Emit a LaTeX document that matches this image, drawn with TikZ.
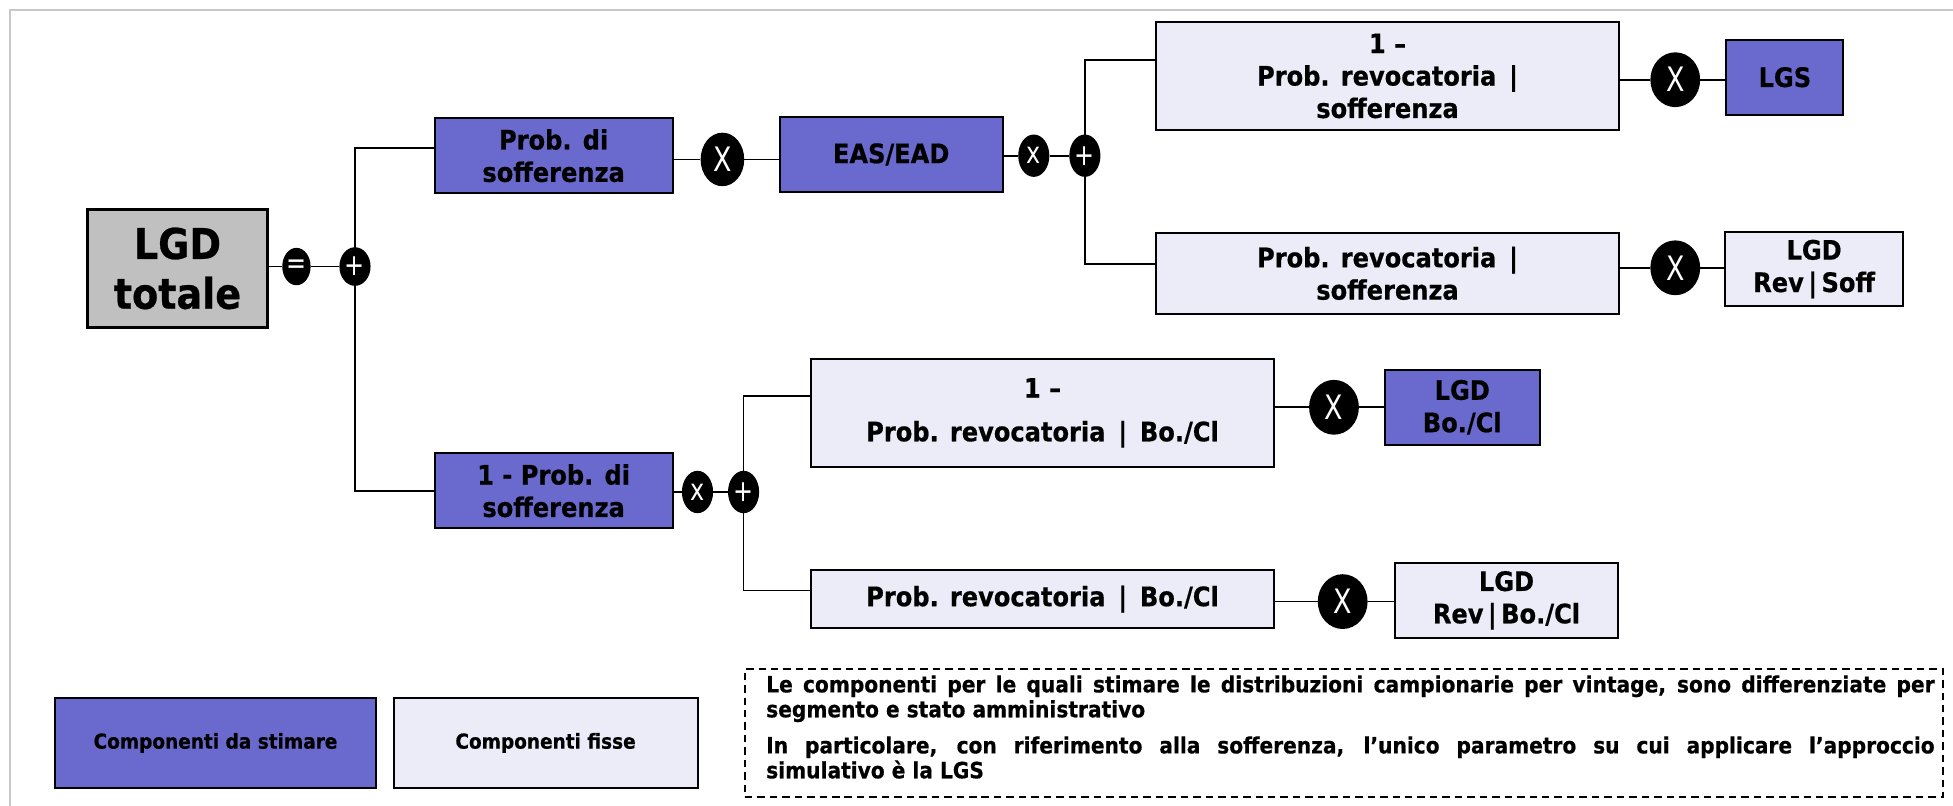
\documentclass[tikz,border=0pt]{standalone}
\usepackage{fontspec}
\setmainfont{DejaVu Sans}[FakeStretch=0.9, BoldFeatures={FakeBold=0.6}]
\newfontfamily\opfont{DejaVu Sans}[FakeStretch=0.8]
\usetikzlibrary{shapes.geometric}
\definecolor{purp}{RGB}{106,106,206}
\definecolor{lightc}{RGB}{236,236,248}
\definecolor{frameg}{RGB}{200,200,200}
\definecolor{boxg}{RGB}{192,192,192}
\pgfdeclarelayer{bg}
\pgfsetlayers{bg,main}
\tikzset{
  bx/.style={draw=black, line width=1.6pt, rectangle, inner sep=0pt, align=center,
    font=\fontsize{21.5}{26}\selectfont\bfseries},
  est/.style={bx, fill=purp},
  fix/.style={bx, fill=lightc},
  op/.style={ellipse, fill=black, text=white, inner sep=0pt,
    font=\fontsize{24}{24}\selectfont\opfont},
  bigop/.style={op, minimum width=40, minimum height=44, font=\fontsize{27}{27}\selectfont\opfont},
  wire/.style={line width=1.4pt, black},
}
\begin{document}
\begin{tikzpicture}[x=1pt, y=-1pt]
\useasboundingbox (0,0) rectangle (1568,647);
\begin{pgfonlayer}{bg}
\fill[white] (0,0) rectangle (1568,647);
\end{pgfonlayer}
\draw[frameg, line width=2pt] (8,647) -- (8,8) -- (1568,8);

% main nodes
\node[bx, fill=boxg, line width=2.4pt, minimum width=145, minimum height=95,
  font=\fontsize{34}{40}\selectfont\bfseries] (lgd) at (142.5,215.5) {LGD\\totale};
\node[op, minimum width=22, minimum height=30] (eq) at (238,214) {=};
\node[op, minimum width=25, minimum height=31] (plus1) at (285,214) {+};

% upper branch
\node[est, minimum width=191, minimum height=60] (p1) at (444.5,125) {Prob. di\\sofferenza};
\node[bigop, minimum width=35, minimum height=43] (x1) at (580,128) {X};
\node[est, minimum width=179, minimum height=60] (eas) at (715.5,124) {EAS/EAD};
\node[op, minimum width=25, minimum height=34] (x2) at (830,125) {x};
\node[op, minimum width=25, minimum height=34] (plus2) at (871,125) {+};

\node[fix, minimum width=372, minimum height=86] (r1) at (1114,61) {1 –\\Prob. revocatoria \,|\\sofferenza};
\node[bigop] (x3) at (1345,64) {X};
\node[est, minimum width=94, minimum height=60] (lgs) at (1433,62) {LGS};

\node[fix, minimum width=372, minimum height=65] (r2) at (1114,219.5) {Prob. revocatoria \,|\\sofferenza};
\node[bigop] (x4) at (1345,215) {X};
\node[fix, minimum width=143, minimum height=60] (lrs) at (1456.5,216) {LGD\\Rev\,|\,Soff};

% lower branch
\node[est, minimum width=191, minimum height=60] (p2) at (444.5,394) {1 - Prob. di\\sofferenza};
\node[op, minimum width=25, minimum height=34] (x5) at (560,395) {x};
\node[op, minimum width=25, minimum height=34] (plus3) at (597,395) {+};

\node[fix, minimum width=372, minimum height=87] (r3) at (837,331.5) {1 –\\[9pt]Prob. revocatoria \,| \,Bo./Cl};
\node[bigop] (x6) at (1071,327) {X};
\node[est, minimum width=124, minimum height=60] (lbc) at (1174,327) {LGD\\Bo./Cl};

\node[fix, minimum width=372, minimum height=46] (r4) at (837,481) {Prob. revocatoria \,| \,Bo./Cl};
\node[bigop] (x7) at (1078,483) {X};
\node[fix, minimum width=179, minimum height=60] (lrbc) at (1209.5,482) {LGD\\Rev\,|\,Bo./Cl};

% legend
\node[est, minimum width=258, minimum height=73, font=\fontsize{16.5}{19}\selectfont\bfseries] (leg1) at (173,596.5) {Componenti da stimare};
\node[fix, minimum width=244, minimum height=73, font=\fontsize{16.5}{19}\selectfont\bfseries] (leg2) at (438,596.5) {Componenti fisse};

% note
\node[draw=black, line width=1.5pt, dash pattern=on 6pt off 4pt, rectangle,
  minimum width=962, minimum height=103, inner sep=0pt] (note) at (1079,588.5) {};
\node[anchor=north west, inner sep=0pt, text width=938, align=justify,
  font=\fontsize{18}{20}\selectfont\bfseries] (notetxt) at (615,542)
  {Le componenti per le quali stimare le distribuzioni campionarie per vintage, sono differenziate per\linebreak segmento e stato amministrativo\par\vspace{9pt}In particolare, con riferimento alla sofferenza, l’unico parametro su cui applicare l’approccio\linebreak simulativo è la LGS\par};

% connectors
\begin{pgfonlayer}{bg}
\draw[wire] (lgd.east |- eq) -- (eq) -- (plus1);
\draw[wire] ([yshift=6pt]p1.west) -| (plus1.center) |- (p2.west);
\draw[wire] (p1.east |- x1) -- (x1) -- (eas.west |- x1);
\draw[wire] (eas.east |- x2) -- (x2) -- (plus2);
\draw[wire] ([yshift=13pt]r1.west) -| (plus2.center) |- ([yshift=7.5pt]r2.west);
\draw[wire] (r1.east |- x3) -- (x3) -- (lgs.west |- x3);
\draw[wire] (r2.east |- x4) -- (x4) -- (lrs.west |- x4);
\draw[wire] (p2.east |- x5) -- (x5) -- (plus3);
\draw[wire] ([yshift=13.5pt]r3.west) -| (plus3.center) |- ([yshift=7pt]r4.west);
\draw[wire] (r3.east |- x6) -- (x6) -- (lbc.west |- x6);
\draw[wire] (r4.east |- x7) -- (x7) -- (lrbc.west |- x7);
\end{pgfonlayer}
\end{tikzpicture}
\end{document}
